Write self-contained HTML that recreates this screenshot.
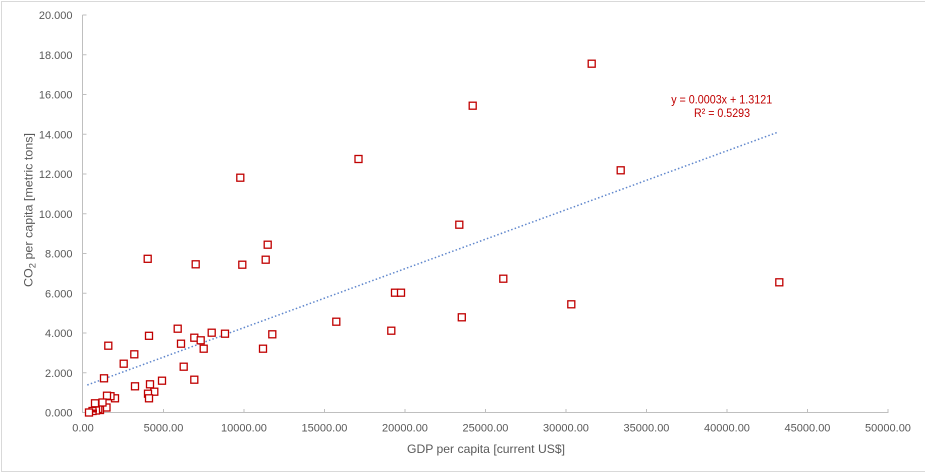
<!DOCTYPE html>
<html>
<head>
<meta charset="utf-8">
<style>
  html,body{margin:0;padding:0;background:#fff;}
  svg{display:block;}
  text{font-family:"Liberation Sans", sans-serif;}
</style>
</head>
<body>
<svg width="925" height="473" viewBox="0 0 925 473" xmlns="http://www.w3.org/2000/svg">
  <rect x="0" y="0" width="925" height="473" fill="#fff"/>
  <rect x="1.5" y="1.5" width="930" height="470" fill="none" stroke="#d9d9d9" stroke-width="1"/>

  <g stroke="#bfbfbf" stroke-width="1" fill="none">
    <line x1="82.5" y1="15" x2="82.5" y2="413"/>
    <line x1="82.5" y1="412.5" x2="888.5" y2="412.5"/>
    <line x1="82.5" y1="15" x2="86.5" y2="15"/>
    <line x1="82.5" y1="54.75" x2="86.5" y2="54.75"/>
    <line x1="82.5" y1="94.5" x2="86.5" y2="94.5"/>
    <line x1="82.5" y1="134.25" x2="86.5" y2="134.25"/>
    <line x1="82.5" y1="174" x2="86.5" y2="174"/>
    <line x1="82.5" y1="213.75" x2="86.5" y2="213.75"/>
    <line x1="82.5" y1="253.5" x2="86.5" y2="253.5"/>
    <line x1="82.5" y1="293.25" x2="86.5" y2="293.25"/>
    <line x1="82.5" y1="333" x2="86.5" y2="333"/>
    <line x1="82.5" y1="372.75" x2="86.5" y2="372.75"/>
    <line x1="163.5" y1="412.5" x2="163.5" y2="409"/>
    <line x1="244" y1="412.5" x2="244" y2="409"/>
    <line x1="324.5" y1="412.5" x2="324.5" y2="409"/>
    <line x1="405" y1="412.5" x2="405" y2="409"/>
    <line x1="485.5" y1="412.5" x2="485.5" y2="409"/>
    <line x1="566" y1="412.5" x2="566" y2="409"/>
    <line x1="646.5" y1="412.5" x2="646.5" y2="409"/>
    <line x1="727" y1="412.5" x2="727" y2="409"/>
    <line x1="807.5" y1="412.5" x2="807.5" y2="409"/>
    <line x1="888" y1="412.5" x2="888" y2="409"/>
  </g>

  <g fill="#595959" font-size="11" text-anchor="end">
    <text x="72.5" y="19">20.000</text>
    <text x="72.5" y="58.75">18.000</text>
    <text x="72.5" y="98.5">16.000</text>
    <text x="72.5" y="138.25">14.000</text>
    <text x="72.5" y="178">12.000</text>
    <text x="72.5" y="217.75">10.000</text>
    <text x="72.5" y="257.5">8.000</text>
    <text x="72.5" y="297.25">6.000</text>
    <text x="72.5" y="337">4.000</text>
    <text x="72.5" y="376.75">2.000</text>
    <text x="72.5" y="416.5">0.000</text>
  </g>

  <g fill="#595959" font-size="11" text-anchor="middle">
    <text x="83" y="431.5">0.00</text>
    <text x="163.5" y="431.5">5000.00</text>
    <text x="244" y="431.5">10000.00</text>
    <text x="324.5" y="431.5">15000.00</text>
    <text x="405" y="431.5">20000.00</text>
    <text x="485.5" y="431.5">25000.00</text>
    <text x="566" y="431.5">30000.00</text>
    <text x="646.5" y="431.5">35000.00</text>
    <text x="727" y="431.5">40000.00</text>
    <text x="807.5" y="431.5">45000.00</text>
    <text x="888" y="431.5">50000.00</text>
  </g>

  <text x="486" y="453" fill="#595959" font-size="12" text-anchor="middle" textLength="158" lengthAdjust="spacingAndGlyphs">GDP per capita [current US$]</text>
  <text transform="translate(32.5,210) rotate(-90)" x="0" y="0" fill="#595959" font-size="12" text-anchor="middle" textLength="154" lengthAdjust="spacingAndGlyphs">CO<tspan font-size="9" dy="3">2</tspan><tspan dy="-3"> per capita [metric tons]</tspan></text>

  <line x1="87.3" y1="385" x2="777" y2="132.5" stroke="#4472C4" stroke-width="1.5" stroke-dasharray="1.5 2.2" opacity="0.85"/>

  <g fill="#fff" stroke="#C00000" stroke-width="1.3">
    <rect x="588.2" y="60.2" width="7" height="7"/>
    <rect x="469.2" y="102.2" width="7" height="7"/>
    <rect x="355" y="155.5" width="7" height="7"/>
    <rect x="236.8" y="174.2" width="7" height="7"/>
    <rect x="617.2" y="166.8" width="7" height="7"/>
    <rect x="455.8" y="221.2" width="7" height="7"/>
    <rect x="264.2" y="241.2" width="7" height="7"/>
    <rect x="262.2" y="256.2" width="7" height="7"/>
    <rect x="192.2" y="260.8" width="7" height="7"/>
    <rect x="238.8" y="261.2" width="7" height="7"/>
    <rect x="144.2" y="255.3" width="7" height="7"/>
    <rect x="391.5" y="289.2" width="7" height="7"/>
    <rect x="397.5" y="289.2" width="7" height="7"/>
    <rect x="499.8" y="275.2" width="7" height="7"/>
    <rect x="775.8" y="278.8" width="7" height="7"/>
    <rect x="567.8" y="300.8" width="7" height="7"/>
    <rect x="458.3" y="313.8" width="7" height="7"/>
    <rect x="332.8" y="318.2" width="7" height="7"/>
    <rect x="387.8" y="327.2" width="7" height="7"/>
    <rect x="174.2" y="325.2" width="7" height="7"/>
    <rect x="145.5" y="332.3" width="7" height="7"/>
    <rect x="190.8" y="334.2" width="7" height="7"/>
    <rect x="197.2" y="336.8" width="7" height="7"/>
    <rect x="208.2" y="329.2" width="7" height="7"/>
    <rect x="221.5" y="330.2" width="7" height="7"/>
    <rect x="268.8" y="330.8" width="7" height="7"/>
    <rect x="177.5" y="340.2" width="7" height="7"/>
    <rect x="200.2" y="345.2" width="7" height="7"/>
    <rect x="259.5" y="345.2" width="7" height="7"/>
    <rect x="104.8" y="342.2" width="7" height="7"/>
    <rect x="130.8" y="350.8" width="7" height="7"/>
    <rect x="120.2" y="360.2" width="7" height="7"/>
    <rect x="180.2" y="363.2" width="7" height="7"/>
    <rect x="100.5" y="374.8" width="7" height="7"/>
    <rect x="190.8" y="376.2" width="7" height="7"/>
    <rect x="158.5" y="377.2" width="7" height="7"/>
    <rect x="146.5" y="380.8" width="7" height="7"/>
    <rect x="131.5" y="382.8" width="7" height="7"/>
    <rect x="150.8" y="388.2" width="7" height="7"/>
    <rect x="144.5" y="390.2" width="7" height="7"/>
    <rect x="145.5" y="394.8" width="7" height="7"/>
    <rect x="111.5" y="394.8" width="7" height="7"/>
    <rect x="107" y="392.7" width="7" height="7"/>
    <rect x="103.5" y="392.2" width="7" height="7"/>
    <rect x="103" y="404" width="7" height="7"/>
    <rect x="96.5" y="406.5" width="7" height="7"/>
    <rect x="94.8" y="405.5" width="7" height="7"/>
    <rect x="99" y="399" width="7" height="7"/>
    <rect x="91.5" y="399.8" width="7" height="7"/>
    <rect x="92.5" y="407" width="7" height="7"/>
    <rect x="89" y="407.5" width="7" height="7"/>
    <rect x="85.5" y="409" width="7" height="7"/>
  </g>
  <rect x="92" y="409.5" width="5" height="3" fill="#C00000"/>

  <g fill="#C00000" font-size="12" text-anchor="middle">
    <text x="721.7" y="103.5" textLength="101" lengthAdjust="spacingAndGlyphs">y = 0.0003x + 1.3121</text>
    <text x="722" y="116.8" textLength="56" lengthAdjust="spacingAndGlyphs">R² = 0.5293</text>
  </g>
</svg>
</body>
</html>
